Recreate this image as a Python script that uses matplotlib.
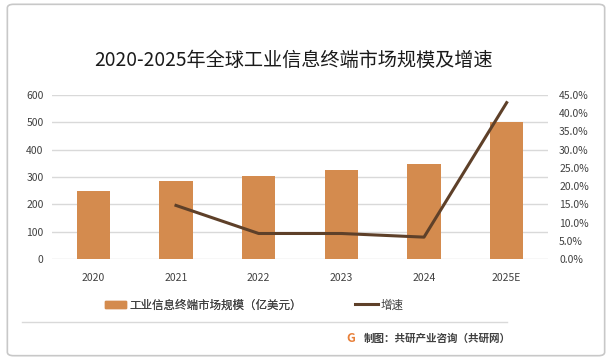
import numpy as np
import matplotlib.pyplot as plt
from matplotlib.lines import Line2D
from matplotlib.patches import Patch, FancyBboxPatch

plt.rcParams['font.family'] = ['Noto Sans CJK SC', 'DejaVu Sans']

years = ['2020', '2021', '2022', '2023', '2024', '2025E']
market_size = [250, 285, 304, 326, 348, 500]
growth = [np.nan, 14.7, 7.0, 7.0, 6.0, 42.9]

bar_color = '#D48B4E'
line_color = '#5E4029'
text_color = '#404040'

fig = plt.figure(figsize=(6.12, 3.6), dpi=100)

# outer frame
fig.patches.append(FancyBboxPatch((0.012, 0.012), 0.976, 0.976, boxstyle='round,pad=0,rounding_size=0.01',
                                  transform=fig.transFigure, fill=False, edgecolor='#C8C8C8', linewidth=1.2))

ax = fig.add_axes([52 / 612, 1 - 259 / 360, 496 / 612, 164 / 360])
x = np.arange(len(years))
ax.bar(x, market_size, width=0.4, color=bar_color, zorder=2)
ax.set_xlim(-0.5, len(years) - 0.5)
ax.set_ylim(0, 600)
ax.set_yticks(range(0, 601, 100))
ax.yaxis.grid(True, color='#D9D9D9', linewidth=1)
ax.set_axisbelow(True)
for s in ax.spines.values():
    s.set_visible(False)
ax.tick_params(axis='both', length=0, labelsize=7.5, colors=text_color)
ax.tick_params(axis='y', pad=6)
ax.tick_params(axis='x', pad=10)
ax.set_xticks(x)
ax.set_xticklabels(years)

ax2 = ax.twinx()
ax2.plot(x, growth, color=line_color, linewidth=2.2, zorder=3)
ax2.set_ylim(0, 45)
ax2.set_yticks(np.arange(0, 46, 5))
ax2.set_yticklabels(['%.1f%%' % v for v in np.arange(0, 46, 5)])
for s in ax2.spines.values():
    s.set_visible(False)
ax2.tick_params(axis='y', length=0, labelsize=7.5, colors=text_color, pad=8)

fig.text(293.5 / 612, 1 - 60 / 360, '2020-2025年全球工业信息终端市场规模及增速', ha='center', va='center',
         fontsize=13.8, color='#1A1A1A')

leg1 = fig.legend([Patch(color=bar_color)], ['工业信息终端市场规模（亿美元）'], loc='center left',
                  bbox_to_anchor=(95 / 612, 1 - 305 / 360), frameon=False, fontsize=8.3,
                  handlelength=1.8, handleheight=0.6, handletextpad=0.3, labelcolor=text_color)
fig.legend([Line2D([], [], color=line_color, linewidth=2.2)], ['增速'], loc='center left',
           bbox_to_anchor=(345 / 612, 1 - 305 / 360), frameon=False, fontsize=8.3,
           handlelength=2.0, handletextpad=0.2, labelcolor=text_color)
fig.add_artist(leg1)

fig.add_artist(Line2D([22 / 612, 507 / 612], [1 - 322 / 360] * 2, transform=fig.transFigure,
                      color='#D9D9D9', linewidth=1))
fig.text(364 / 612, 1 - 339 / 360, '制图：共研产业咨询（共研网）', ha='left', va='center',
         fontsize=7.6, fontweight='bold', color=text_color)
fig.text(351 / 612, 1 - 339 / 360, 'G', ha='center', va='center', fontsize=9, fontweight='bold',
         color='#E8803A')

fig.savefig('out.png', dpi=100)
